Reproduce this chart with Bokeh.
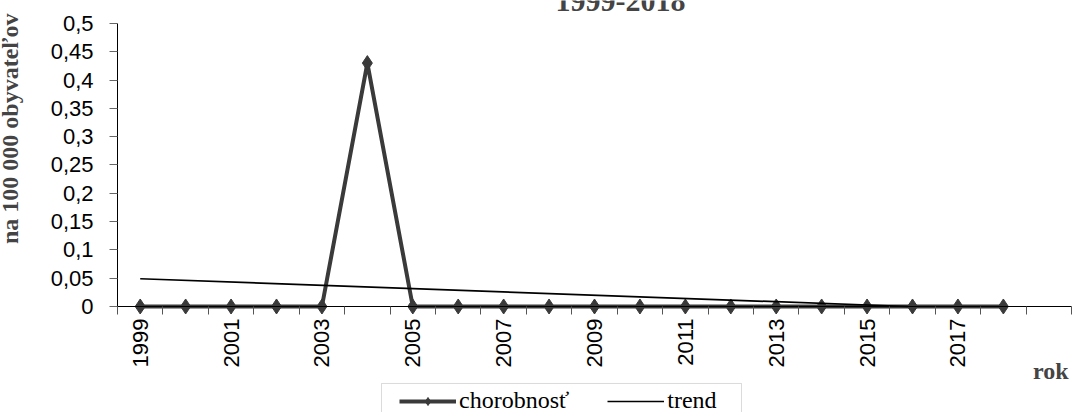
import math
from bokeh.plotting import figure
from bokeh.models import (Range1d, FixedTicker, Legend, LegendItem, Label, BoxAnnotation)
from bokeh.embed import file_html
from bokeh.resources import INLINE

# ---- data ----
years = [1999, 2000, 2001, 2002, 2003, 2004, 2005, 2006, 2007, 2008,
         2009, 2010, 2011, 2012, 2013, 2014, 2015, 2016, 2017, 2018]
chorobnost = [0, 0, 0, 0, 0, 0.43, 0, 0, 0, 0,
              0, 0, 0, 0, 0, 0, 0, 0, 0, 0]
# linear trend as drawn (reaches the axis at about 2016)
trend_years = [1999, 2015.9]
trend_values = [0.049, 0.0]

xtick_years = [1999, 2001, 2003, 2005, 2007, 2009, 2011, 2013, 2015, 2017]
xtick_labels = ["1999", "2001", "2003", "2005", "2007", "2009", "2011", "2013", "2015", "2017"]
yticks = [0, 0.05, 0.1, 0.15, 0.2, 0.25, 0.3, 0.35, 0.4, 0.45, 0.5]
ytick_labels = ["0", "0,05", "0,1", "0,15", "0,2", "0,25", "0,3", "0,35", "0,4", "0,45", "0,5"]

title_text = "1999-2018"
ylabel_text = "na 100 000 obyvateľov"
xlabel_text = "rok"
series_name = "chorobnosť"
trend_name = "trend"

SANS = "Liberation Sans"
SERIF = "Liberation Serif"

# plotting area spans the whole canvas; axes are pinned at x=1998.5 and y=0
X0, X1 = 1998.5, 2019.5          # category axis extent
Y0, Y1 = 0.0, 0.5                # value axis extent
p = figure(width=1073, height=412, output_backend="svg", toolbar_location=None,
           x_range=Range1d(1995.9245, 2019.544), y_range=Range1d(-0.18728, 0.5406),
           min_border=0)
p.min_border_left = 0
p.min_border_right = 0
p.min_border_top = 0
p.min_border_bottom = 0
p.outline_line_color = None
p.xgrid.visible = False
p.ygrid.visible = False
p.background_fill_color = "white"
p.border_fill_color = "white"

# boundaries between categories for tick marks
bounds = [y - 0.5 for y in years] + [years[-1] + 0.5, years[-1] + 1.5]

xa = p.xaxis[0]
xa.fixed_location = Y0
xa.bounds = (X0, X1)
xa.ticker = FixedTicker(ticks=xtick_years, minor_ticks=bounds)
xa.major_label_overrides = {y: l for y, l in zip(xtick_years, xtick_labels)}
xa.major_label_orientation = math.pi / 2
xa.major_tick_line_color = None
xa.major_tick_out = 8
xa.major_tick_in = 0
xa.minor_tick_out = 8
xa.minor_tick_in = 0
xa.minor_tick_line_color = "#555555"
xa.axis_line_color = "black"
xa.major_label_standoff = 4
xa.major_label_text_font = SANS
xa.major_label_text_font_size = "22px"
xa.major_label_text_color = "black"

ya = p.yaxis[0]
ya.fixed_location = X0
ya.bounds = (Y0, Y1)
ya.ticker = FixedTicker(ticks=yticks, minor_ticks=[])
ya.major_label_overrides = {t: l for t, l in zip(yticks, ytick_labels)}
ya.major_tick_out = 8
ya.major_tick_in = 0
ya.major_tick_line_color = "#666666"
ya.minor_tick_line_color = None
ya.axis_line_color = "black"
ya.major_label_standoff = 16
ya.major_label_text_font = SANS
ya.major_label_text_font_size = "22px"
ya.major_label_text_color = "black"

# series
line_r = p.line(years, chorobnost, line_color="#3a3a3a", line_width=4)
mark_r = p.scatter(years, chorobnost, marker="diamond", size=15,
                   fill_color="#3a3a3a", line_color="#3a3a3a")
trend_r = p.line(trend_years, trend_values, line_color="black", line_width=1.7)

# title (partly above the visible area, as in the reference)
p.add_layout(Label(x=2009.572, y=0.5389, text=title_text, text_font=SERIF,
                   text_font_style="bold", text_font_size="30px",
                   text_align="center", text_baseline="alphabetic"))
# y axis title
p.add_layout(Label(x=1996.14, y=0.5177, text=ylabel_text, text_font=SERIF,
                   text_font_style="bold", text_font_size="24px", angle=math.pi / 2,
                   text_align="right", text_baseline="middle"))
# x axis title
p.add_layout(Label(x=2019.434, y=-0.1143, text=xlabel_text, text_font=SERIF,
                   text_font_style="bold", text_font_size="24px",
                   text_align="right", text_baseline="alphabetic"))

# legend frame (open at the bottom edge of the picture)
p.add_layout(BoxAnnotation(left=2004.3113, right=2012.2359, top=-0.13604, bottom=-0.3,
                           fill_color="white", fill_alpha=1,
                           line_color="#888888", line_width=1))

legend = Legend(items=[LegendItem(label=series_name, renderers=[line_r, mark_r]),
                       LegendItem(label=trend_name, renderers=[trend_r])],
                orientation="horizontal", location=(399, -2))
legend.label_text_font = SERIF
legend.label_text_font_size = "24px"
legend.label_text_color = "black"
legend.glyph_width = 57
legend.glyph_height = 20
legend.label_height = 20
legend.label_standoff = 3
legend.spacing = 38
legend.padding = 4
legend.margin = 0
legend.border_line_color = None
legend.background_fill_alpha = 0
p.add_layout(legend, "center")

open("out.html", "w").write(file_html(p, INLINE))
